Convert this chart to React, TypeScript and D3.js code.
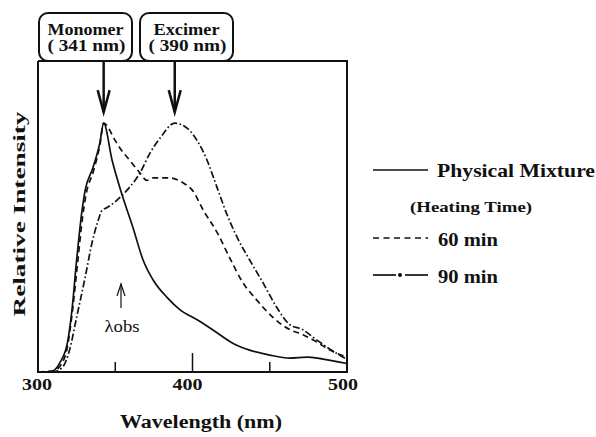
import React from "react";
import * as d3 from "d3";

// wavelength (nm) / relative intensity
const physicalNm = [300, 308, 314, 319, 322, 325, 328.5, 330.5, 335.5, 340, 342.5, 348, 354, 361.5, 368, 374.5, 383.5, 392, 403, 413, 426, 437, 450, 463, 474, 484.5, 500];
const physicalVal = [0, 0, 0.036, 0.116, 0.25, 0.45, 0.65, 0.73, 0.82, 0.92, 1.0, 0.85, 0.72, 0.58, 0.45, 0.37, 0.3, 0.25, 0.21, 0.17, 0.116, 0.088, 0.068, 0.056, 0.06, 0.052, 0.034];

const min60Nm = [300, 310, 315, 319, 322, 325.5, 329, 331, 336, 340, 342.5, 350, 353, 359.5, 366, 370.5, 374.5, 385, 394, 400, 407, 416, 424, 432.5, 441.5, 452, 463, 471.5, 480.5, 489, 500];
const min60Val = [0, 0.005, 0.03, 0.1, 0.23, 0.43, 0.63, 0.71, 0.81, 0.91, 1.0, 0.93, 0.9, 0.85, 0.8, 0.77, 0.78, 0.78, 0.76, 0.73, 0.65, 0.56, 0.46, 0.36, 0.29, 0.22, 0.17, 0.15, 0.12, 0.088, 0.06];

const min90Nm = [300, 310, 316, 320.5, 325, 330.5, 335, 339, 341.5, 344.5, 351, 357.5, 366, 372.5, 379, 388.5, 396.5, 403, 409.5, 416, 422.5, 429, 437, 445.5, 454.5, 463, 471.5, 478, 487, 500];
const min90Val = [0, 0, 0.02, 0.09, 0.22, 0.38, 0.52, 0.61, 0.65, 0.66, 0.69, 0.73, 0.8, 0.88, 0.94, 1.0, 0.98, 0.93, 0.85, 0.74, 0.63, 0.54, 0.45, 0.36, 0.26, 0.19, 0.17, 0.14, 0.1, 0.05];

const tickLabels = [300, 400, 500];
const minorTicks = [350, 400, 450];
const peaks = [
  { name: "Monomer", sub: "( 341 nm)", nm: 342.5 },
  { name: "Excimer", sub: "( 390 nm)", nm: 388.5 },
];

const ink = "#111";
const serif = { fontFamily: "Liberation Serif" };
const bold = { fontFamily: "Liberation Serif", fontWeight: 700 };

const App = () => {
  const x = d3.scaleLinear().domain([300, 500]).range([38, 347]);
  const y = d3.scaleLinear().domain([0, 1.25]).range([372, 61]);
  const line = d3
    .line<[number, number]>()
    .x(d => x(d[0]))
    .y(d => y(d[1]))
    .curve(d3.curveMonotoneX);

  const series = [
    { nm: physicalNm, val: physicalVal, dash: "none" },
    { nm: min60Nm, val: min60Val, dash: "6,4" },
    { nm: min90Nm, val: min90Val, dash: "7,2.5,1.6,2.5" },
  ];

  return (
    <svg width={596} height={437} style={{ position: "absolute", left: 0, top: 0, background: "#fff" }}>
      {/* frame */}
      <path d={`M${x(300)},${y(1.25)}V${y(0)}H${x(500)}V${y(1.25)}H${x(300)}`} fill="none" stroke={ink} strokeWidth={2} />
      {minorTicks.map(t => (
        <line key={t} x1={x(t)} x2={x(t)} y1={y(0)} y2={y(0) - (t === 400 ? 19 : 10)} stroke={ink} strokeWidth={1.5} />
      ))}

      {series.map((s, i) => (
        <path
          key={i}
          d={line(s.nm.map((n, j) => [n, s.val[j]]) as [number, number][]) || ""}
          fill="none"
          stroke={ink}
          strokeWidth={1.7}
          strokeDasharray={s.dash}
        />
      ))}

      {/* peak callouts */}
      {peaks.map((p, i) => {
        const bx = i === 0 ? 39 : 140;
        const cx = bx + 46.5;
        const px = x(p.nm);
        const tip = y(1.0) - 11;
        return (
          <g key={p.name}>
            <rect x={bx} y={13} width={93} height={48} rx={9} fill="#fff" stroke={ink} strokeWidth={2} />
            <text x={cx} y={35} textAnchor="middle" style={bold} fontSize={16} fill={ink} textLength={i === 0 ? 76 : 66} lengthAdjust="spacingAndGlyphs">{p.name}</text>
            <text x={cx + 1} y={51} textAnchor="middle" style={bold} fontSize={16} fill={ink} textLength={78} lengthAdjust="spacingAndGlyphs">{p.sub}</text>
            <line x1={px} x2={px} y1={61} y2={tip} stroke={ink} strokeWidth={2.5} />
            <path d={`M${px - 6},${tip - 22}L${px},${tip}L${px + 6},${tip - 22}`} fill="none" stroke={ink} strokeWidth={2.5} />
          </g>
        );
      })}

      {/* lambda obs marker */}
      <line x1={121} x2={121} y1={308} y2={284} stroke={ink} strokeWidth={1.2} />
      <path d="M117,296L121,284L125,296" fill="none" stroke={ink} strokeWidth={1.2} />
      <text x={122} y={332} textAnchor="middle" style={serif} fontSize={16} fill={ink} textLength={35} lengthAdjust="spacingAndGlyphs">λobs</text>

      {/* axes text */}
      {tickLabels.map(t => (
        <text key={t} x={x(t) - (t === 500 ? 4 : t === 400 ? 5 : 1)} y={390} textAnchor="middle" style={bold} fontSize={16} fill={ink} textLength={30} lengthAdjust="spacingAndGlyphs">{t}</text>
      ))}
      <text x={201} y={428} textAnchor="middle" style={bold} fontSize={18} fill={ink} textLength={162} lengthAdjust="spacingAndGlyphs">Wavelength (nm)</text>
      <text transform="translate(25,214) rotate(-90)" textAnchor="middle" style={bold} fontSize={16} fill={ink} textLength={205} lengthAdjust="spacingAndGlyphs">Relative Intensity</text>

      {/* legend */}
      <line x1={373} x2={428} y1={170} y2={170} stroke={ink} strokeWidth={1.7} />
      <text x={437} y={177} style={bold} fontSize={19} fill={ink} textLength={158} lengthAdjust="spacingAndGlyphs">Physical Mixture</text>
      <text x={410} y={212} style={bold} fontSize={15} fill={ink} textLength={122} lengthAdjust="spacingAndGlyphs">(Heating Time)</text>
      <line x1={373} x2={428} y1={238} y2={238} stroke={ink} strokeWidth={1.7} strokeDasharray="6,4.5" />
      <text x={438} y={246} style={bold} fontSize={19} fill={ink} textLength={60} lengthAdjust="spacingAndGlyphs">60 min</text>
      <line x1={373} x2={396} y1={275} y2={275} stroke={ink} strokeWidth={1.7} />
      <circle cx={400} cy={275} r={2} fill={ink} />
      <line x1={405} x2={428} y1={275} y2={275} stroke={ink} strokeWidth={1.7} />
      <text x={438} y={283} style={bold} fontSize={19} fill={ink} textLength={60} lengthAdjust="spacingAndGlyphs">90 min</text>
    </svg>
  );
};

export default App;
